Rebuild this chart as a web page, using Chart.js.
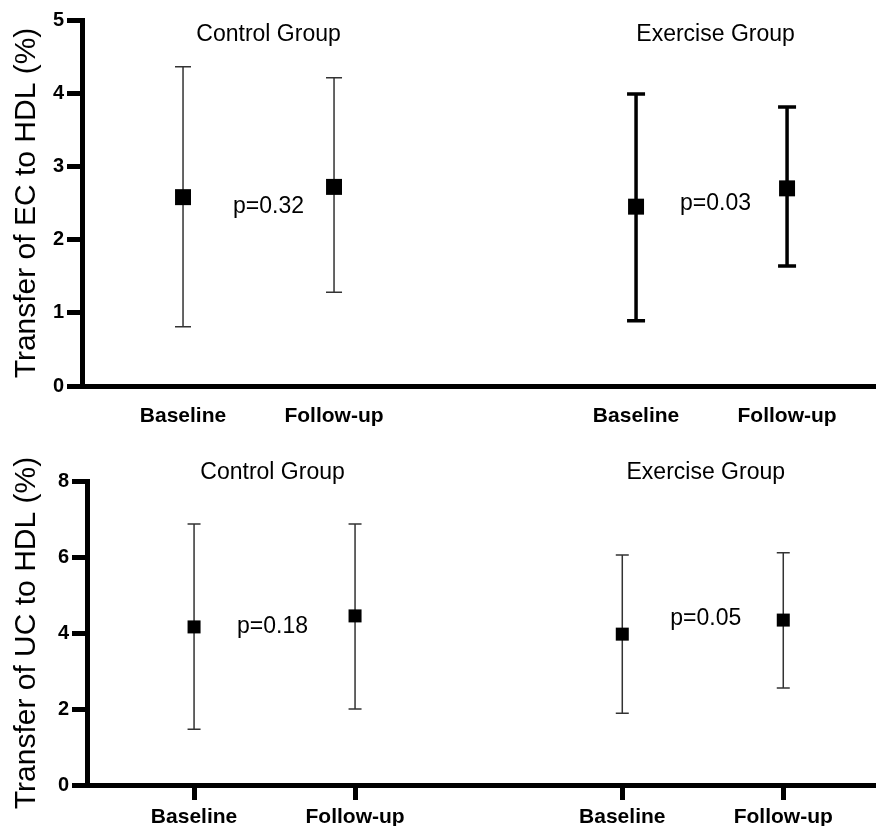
<!DOCTYPE html>
<html>
<head>
<meta charset="utf-8">
<script src="https://cdn.jsdelivr.net/npm/chart.js@4"></script>
<style>
  html, body { margin:0; padding:0; background:#fff; overflow:hidden; width:876px; height:826px; }
  .panel { position:absolute; left:0; width:876px; }
  #topWrap { top:0; height:440px; }
  #botWrap { top:420px; height:420px; }
</style>
</head>
<body>
<div class="panel" id="topWrap"><canvas id="top"></canvas></div>
<div class="panel" id="botWrap"><canvas id="bottom"></canvas></div>
<script>
const timepoints = ['Baseline', 'Follow-up'];
const groups = ['Control Group', 'Exercise Group'];

// transfer of EC to HDL (%), mean with lower / upper whisker
const ecControlMean = [2.58, 2.72];
const ecControlLow = [0.81, 1.28];
const ecControlHigh = [4.36, 4.21];
const ecExerciseMean = [2.45, 2.70];
const ecExerciseLow = [0.89, 1.64];
const ecExerciseHigh = [3.99, 3.81];
const ecPValues = ['p=0.32', 'p=0.03'];
const ecTicks = [0, 1, 2, 3, 4, 5];

// transfer of UC to HDL (%)
const ucControlMean = [4.16, 4.45];
const ucControlLow = [1.47, 2.00];
const ucControlHigh = [6.87, 6.87];
const ucExerciseMean = [3.97, 4.34];
const ucExerciseLow = [1.89, 2.55];
const ucExerciseHigh = [6.05, 6.11];
const ucPValues = ['p=0.18', 'p=0.05'];
const ucTicks = [0, 2, 4, 6, 8];

const FONT = 'Liberation Sans, Arial, Helvetica, sans-serif';

const errorBars = {
  id: 'errorBars',
  beforeDatasetsDraw(chart) {
    const { ctx, scales: { x, y } } = chart;
    chart.data.datasets.forEach(ds => {
      ds.data.forEach((pt, i) => {
        const px = x.getPixelForValue(pt.x);
        const lo = y.getPixelForValue(ds.low[i]);
        const hi = y.getPixelForValue(ds.high[i]);
        ctx.save();
        ctx.strokeStyle = ds.barColor;
        ctx.lineWidth = ds.barWidth;
        ctx.beginPath();
        ctx.moveTo(px, lo); ctx.lineTo(px, hi);
        ctx.moveTo(px - ds.capHalf, lo); ctx.lineTo(px + ds.capHalf, lo);
        ctx.moveTo(px - ds.capHalf, hi); ctx.lineTo(px + ds.capHalf, hi);
        ctx.stroke();
        ctx.restore();
      });
    });
  }
};

const groupText = {
  id: 'groupText',
  afterDraw(chart, args, opts) {
    const { ctx, scales: { x, y } } = chart;
    ctx.save();
    ctx.fillStyle = '#000';
    ctx.textAlign = 'center';
    ctx.textBaseline = 'middle';
    ctx.font = '23px ' + FONT;
    opts.positions.forEach((pos, g) => {
      const mid = x.getPixelForValue((pos[0] + pos[1]) / 2);
      ctx.fillText(groups[g], mid + opts.titleShift[g], y.getPixelForValue(opts.titleY));
      ctx.fillText(opts.pValues[g], mid + opts.titleShift[g], y.getPixelForValue(opts.pY[g]));
    });
    ctx.restore();
  }
};

function panel(id, cfg) {
  const datasets = [
    { label: groups[0], mean: cfg.cMean, low: cfg.cLow, high: cfg.cHigh, pos: cfg.positions[0], barWidth: cfg.widths[0], capHalf: cfg.caps[0] },
    { label: groups[1], mean: cfg.eMean, low: cfg.eLow, high: cfg.eHigh, pos: cfg.positions[1], barWidth: cfg.widths[1], capHalf: cfg.caps[1] }
  ].map(d => ({
    label: d.label,
    data: d.mean.map((v, i) => ({ x: d.pos[i], y: v })),
    low: d.low,
    high: d.high,
    barWidth: d.barWidth,
    capHalf: d.capHalf,
    barColor: d.barWidth > 2 ? '#000' : '#333',
    pointStyle: 'rect',
    pointRadius: cfg.radius,
    backgroundColor: '#000',
    borderWidth: 0
  }));

  const xPos = cfg.positions.flat();

  return new Chart(document.getElementById(id), {
    type: 'scatter',
    data: { datasets },
    plugins: [errorBars, groupText],
    options: {
      responsive: true,
      maintainAspectRatio: false,
      animation: false,
      layout: { autoPadding: false, padding: { top: cfg.padTop, right: 0, bottom: 0, left: 0 } },
      plugins: {
        legend: { display: false },
        tooltip: { enabled: false },
        groupText: { positions: cfg.positions, pValues: cfg.pValues, titleY: cfg.titleY, pY: cfg.pY, titleShift: cfg.titleShift }
      },
      scales: {
        x: {
          type: 'linear',
          min: cfg.xMin,
          max: cfg.xMax,
          afterFit: s => { s.height = cfg.xHeight; s.paddingLeft = 0; s.paddingRight = 0; },
          afterBuildTicks: s => { s.ticks = xPos.map(v => ({ value: v })); },
          grid: { drawOnChartArea: false, tickLength: cfg.xTickLen, tickWidth: 5, tickColor: cfg.xTickColor },
          border: { display: true, color: '#000', width: 5 },
          ticks: {
            autoSkip: false, maxRotation: 0, color: '#000', padding: cfg.xPad,
            font: { family: FONT, size: 21, weight: 'bold' },
            callback: (v, i) => timepoints[i % 2]
          }
        },
        y: {
          min: 0,
          max: cfg.yTicks[cfg.yTicks.length - 1],
          afterFit: s => { s.width = cfg.yWidth; s.paddingTop = 0; s.paddingBottom = 0; },
          afterBuildTicks: s => { s.ticks = cfg.yTicks.map(v => ({ value: v })); },
          grid: { drawOnChartArea: false, tickLength: 15, tickWidth: 5, tickColor: '#000' },
          border: { display: true, color: '#000', width: 5 },
          ticks: { color: '#000', padding: 3, font: { family: FONT, size: 20, weight: 'bold' } },
          title: {
            display: true, text: cfg.yTitle, color: '#000',
            font: { family: FONT, size: 30, weight: 'normal', lineHeight: 1.2 },
            padding: { top: 9, bottom: 0 }
          }
        }
      }
    }
  });
}

panel('top', {
  cMean: ecControlMean, cLow: ecControlLow, cHigh: ecControlHigh,
  eMean: ecExerciseMean, eLow: ecExerciseLow, eHigh: ecExerciseHigh,
  pValues: ecPValues, yTicks: ecTicks,
  yTitle: 'Transfer of EC to HDL (%)',
  positions: [[0, 1], [3, 4]],
  xMin: -0.669, xMax: 4.589,
  widths: [1.5, 3.5], caps: [8, 9], radius: 11.3,
  padTop: 20, xHeight: 54, yWidth: 82,
  xTickLen: 14, xTickColor: 'rgba(0,0,0,0)', xPad: 4,
  titleY: 4.80, pY: [2.45, 2.49], titleShift: [10, 4]
});

panel('bottom', {
  cMean: ucControlMean, cLow: ucControlLow, cHigh: ucControlHigh,
  eMean: ucExerciseMean, eLow: ucExerciseLow, eHigh: ucExerciseHigh,
  pValues: ucPValues, yTicks: ucTicks,
  yTitle: 'Transfer of UC to HDL (%)',
  positions: [[0, 1], [2.66, 3.66]],
  xMin: -0.665, xMax: 4.236,
  widths: [1.5, 1.5], caps: [6.5, 6.5], radius: 9.2,
  padTop: 61, xHeight: 55, yWidth: 87,
  xTickLen: 15, xTickColor: '#000', xPad: 5,
  titleY: 8.22, pY: [4.17, 4.37], titleShift: [-2, 3]
});
</script>
</body>
</html>
